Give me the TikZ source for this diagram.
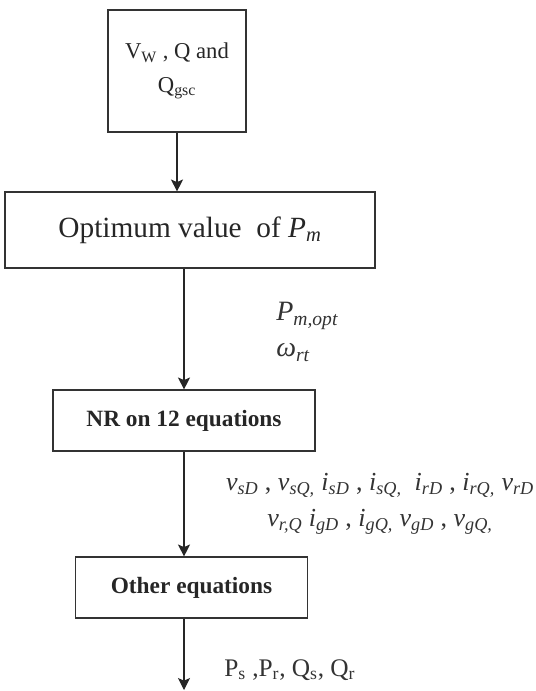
\documentclass[tikz,border=0pt]{standalone}
\usepackage{fontspec}
\setmainfont{Liberation Serif}
\usetikzlibrary{arrows.meta}
\newcommand{\qv}[2]{\textit{#1}\textsubscript{\textit{#2}}}
\tikzset{
  box/.style={draw=black!80, line width=0.8pt, align=center, text=black!85, inner sep=0pt},
  kinput/.style={box, minimum width=103.5pt, minimum height=91.5pt, font=\fontsize{17}{25}\selectfont},
  kopt/.style={box, minimum width=277.5pt, minimum height=57pt, font=\fontsize{22}{26}\selectfont},
  ksolve/.style={box, minimum width=196.5pt, minimum height=45.75pt, font=\bfseries\fontsize{17.5}{20}\selectfont},
  klabel/.style={text=black!80, inner sep=0pt},
  flow/.style={-{Stealth[length=9pt, width=9pt, inset=2pt]}, line width=0.8pt, draw=black!85},
}
\begin{document}
\begin{tikzpicture}[x=0.75pt, y=-0.75pt]
    \useasboundingbox (0,0) rectangle (535,691);
    \node[kinput] (inputs) at (177,71) {V\textsubscript{W} , Q and\\ Q\textsubscript{gsc}};
    \node[kopt] (optimum) at (190,230) {Optimum value\ \ of \qv{P}{m}};
    \node[ksolve] (nr) at (184,420.5) {NR on 12 equations};
    \node[ksolve, minimum width=174pt] (other) at (191.5,587.5) {Other equations};
    \coordinate (out) at (184,690);
    \node[klabel, align=left, anchor=west, font=\fontsize{21}{27}\selectfont] (pm) at (276,332)
      {\qv{P}{m,opt}\\ \qv{ω}{rt}};
    \node[klabel, align=center, font=\fontsize{19.5}{27}\selectfont] (states) at (380,504)
      {\qv{v}{sD} , \qv{v}{sQ,} \qv{i}{sD} , \qv{i}{sQ,}\ \ \qv{i}{rD} , \qv{i}{rQ,} \qv{v}{rD}\\
       \qv{v}{r,Q} \qv{i}{gD} , \qv{i}{gQ,} \qv{v}{gD} , \qv{v}{gQ,}};
    \node[klabel, anchor=west, font=\fontsize{19}{22}\selectfont] (powers) at (224,670)
      {P\textsubscript{s} ,P\textsubscript{r}, Q\textsubscript{s}, Q\textsubscript{r}};
    \draw[flow] (inputs.south) -- (inputs.south |- optimum.north);
    \draw[flow] (nr.north |- optimum.south) -- (nr.north);
    \draw[flow] (nr.south) -- (nr.south |- other.north);
    \draw[flow] (out |- other.south) -- (out);
  \end{tikzpicture}
\end{document}
